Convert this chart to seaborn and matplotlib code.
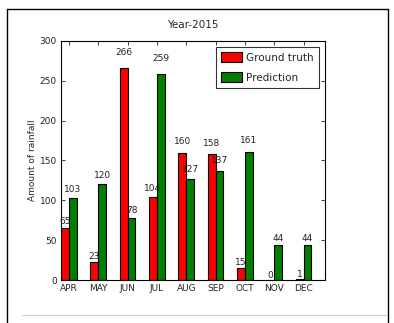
import matplotlib
matplotlib.use("Agg")
import matplotlib.pyplot as plt
import seaborn as sns
import pandas as pd
from matplotlib.lines import Line2D

months = ["APR", "MAY", "JUN", "JUL", "AUG", "SEP", "OCT", "NOV", "DEC"]
ground_truth = [65, 23, 266, 104, 160, 158, 15, 0, 1]
prediction = [103, 120, 78, 259, 127, 137, 161, 44, 44]
series_names = ["Ground truth", "Prediction"]
colors = ["#ff0000", "#008000"]

df = pd.DataFrame({
    "month": months * 2,
    "value": ground_truth + prediction,
    "series": [series_names[0]] * len(months) + [series_names[1]] * len(months),
})

sns.set_style("white")
plt.rcParams["font.family"] = ["DejaVu Sans"]

fig = plt.figure(figsize=(3.94, 3.23), dpi=100)
ax = fig.add_axes([0.1548, 0.1331, 0.670, 0.740])

sns.barplot(data=df, x="month", y="value", hue="series", order=months,
            hue_order=series_names, palette=colors, saturation=1,
            width=0.54, edgecolor="black", linewidth=0.8, ax=ax, errorbar=None)

# value labels
for container in ax.containers:
    for bar in container:
        h = bar.get_height()
        ax.text(bar.get_x() + bar.get_width() / 2, 1.05 * h, f"{int(h)}",
                ha="center", va="bottom", fontsize=6.5, color="#222222")

ax.set_xlim(-0.27, 8.73)
ax.set_ylim(0, 300)
ax.set_yticks([0, 50, 100, 150, 200, 250, 300])
ax.set_xlabel("")
ax.set_ylabel("Amount of rainfall", fontsize=6.5, labelpad=2)
ax.set_title("Year-2015", fontsize=7.5, pad=9)
ax.tick_params(axis="both", labelsize=6.5, direction="in", length=3, width=0.6,
               top=True, right=True, bottom=True, left=True, pad=3, colors="#222222")
for s in ax.spines.values():
    s.set_color("black")
    s.set_linewidth(0.8)

leg = ax.legend(loc="upper right", fontsize=7.5, frameon=True, fancybox=False,
                edgecolor="black", handlelength=2.0, handleheight=1.1,
                borderpad=0.5, labelspacing=0.9, handletextpad=0.4,
                borderaxespad=0.6)
leg.get_frame().set_linewidth(0.8)

# screenshot-like outer frame
fig.add_artist(Line2D([6.5/394, 6.5/394], [0, 1 - 9/323], transform=fig.transFigure, color="black", lw=1.0))
fig.add_artist(Line2D([387.5/394, 387.5/394], [0, 1 - 9/323], transform=fig.transFigure, color="black", lw=1.0))
fig.add_artist(Line2D([6.5/394, 387.5/394], [1 - 9/323, 1 - 9/323], transform=fig.transFigure, color="black", lw=1.0))
fig.add_artist(Line2D([22/394, 386/394], [1 - 315/323, 1 - 315/323], transform=fig.transFigure, color="#cccccc", lw=0.8))

fig.savefig("out.png", dpi=100)
